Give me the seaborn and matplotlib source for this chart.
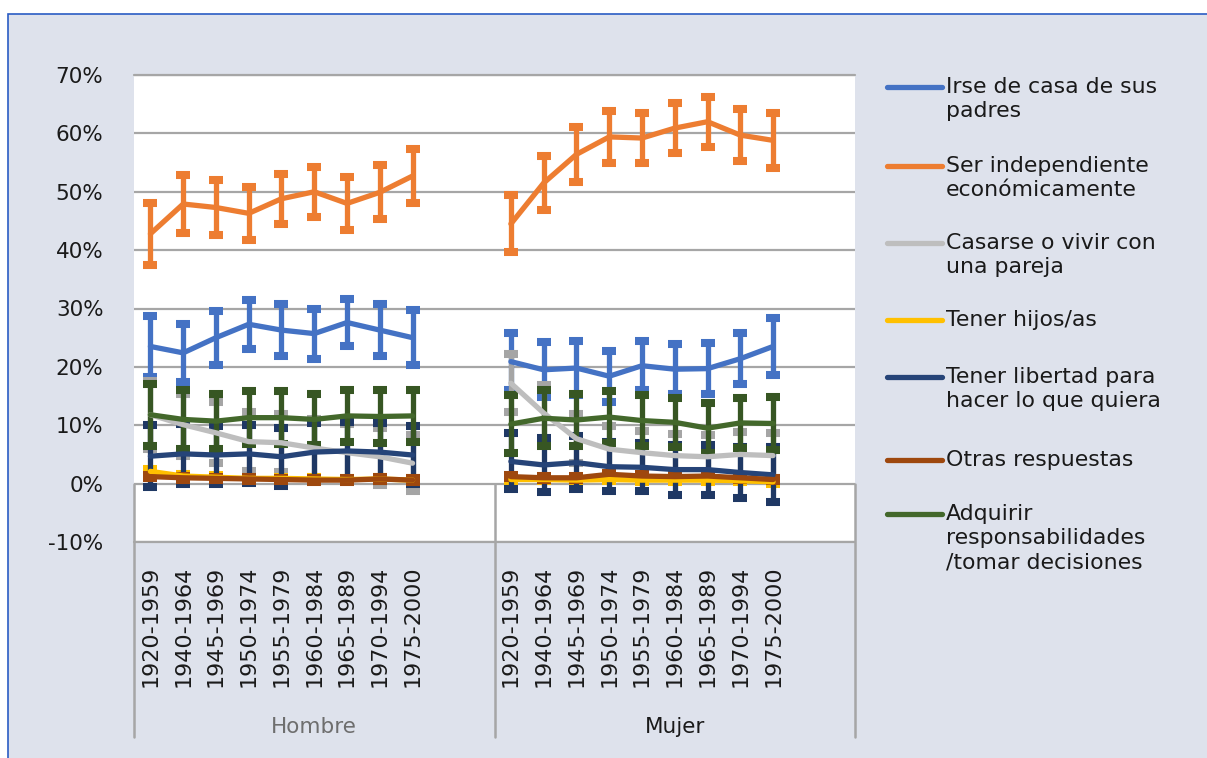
import pandas as pd
import matplotlib.pyplot as plt
import seaborn as sns
from matplotlib.patches import Rectangle
from matplotlib.lines import Line2D
from matplotlib.ticker import FuncFormatter, FixedLocator

# Datos (porcentajes)
cohortes = ['1920-1959', '1940-1964', '1945-1969', '1950-1974', '1955-1979',
            '1960-1984', '1965-1989', '1970-1994', '1975-2000']
sexos = ['Hombre', 'Mujer']
series = ['Irse de casa de sus\npadres',
          'Ser independiente\neconómicamente',
          'Casarse o vivir con\nuna pareja',
          'Tener hijos/as',
          'Tener libertad para\nhacer lo que quiera',
          'Otras respuestas',
          'Adquirir\nresponsabilidades\n/tomar decisiones']

irse_h = [23.5, 22.4, 25.0, 27.3, 26.3, 25.7, 27.6, 26.3, 25.0]
irse_m = [20.9, 19.5, 19.8, 18.4, 20.2, 19.6, 19.7, 21.4, 23.5]
ser_h = [42.8, 47.9, 47.3, 46.3, 48.8, 50.0, 48.0, 49.9, 52.7]
ser_m = [44.5, 51.5, 56.4, 59.4, 59.2, 60.9, 62.0, 59.7, 58.8]
cas_h = [11.8, 10.1, 8.7, 7.2, 7.0, 6.1, 5.3, 4.6, 3.5]
cas_m = [17.2, 12.1, 7.7, 5.9, 5.3, 4.8, 4.6, 5.0, 4.8]
hij_h = [2.1, 1.3, 1.1, 0.9, 0.9, 0.8, 0.7, 0.8, 0.6]
hij_m = [0.7, 0.7, 0.6, 0.7, 0.6, 0.6, 0.6, 0.5, 0.3]
lib_h = [4.7, 5.1, 4.9, 5.1, 4.6, 5.4, 5.6, 5.4, 4.9]
lib_m = [3.8, 3.2, 3.6, 2.9, 2.8, 2.4, 2.4, 1.9, 1.5]
otr_h = [1.2, 1.0, 0.9, 0.8, 0.7, 0.6, 0.6, 0.8, 0.6]
otr_m = [1.2, 1.0, 1.0, 1.6, 1.3, 1.2, 1.3, 1.0, 0.7]
adq_h = [11.8, 11.0, 10.7, 11.3, 11.3, 11.0, 11.6, 11.5, 11.6]
adq_m = [10.2, 11.2, 10.9, 11.4, 10.8, 10.5, 9.5, 10.4, 10.3]

# semiamplitud de los intervalos
irse_h_err = [5.2, 5.0, 4.6, 4.2, 4.4, 4.3, 4.0, 4.5, 4.7]
irse_m_err = [4.9, 4.7, 4.6, 4.4, 4.2, 4.3, 4.4, 4.4, 4.9]
ser_h_err = [5.3, 5.0, 4.7, 4.5, 4.3, 4.3, 4.5, 4.6, 4.6]
ser_m_err = [4.9, 4.7, 4.7, 4.4, 4.3, 4.3, 4.3, 4.4, 4.7]
cas_h_err = [5.8, 5.3, 5.2, 5.0, 5.0, 4.9, 4.9, 4.9, 4.8]
cas_m_err = [5.0, 4.8, 4.2, 4.0, 3.8, 3.7, 3.7, 3.8, 3.8]
hij_h_err = [0.4, 0.3, 0.3, 0.3, 0.3, 0.3, 0.3, 0.3, 0.3]
hij_m_err = [0.3, 0.3, 0.3, 0.3, 0.3, 0.3, 0.3, 0.3, 0.3]
lib_h_err = [5.3, 5.1, 5.0, 5.0, 5.0, 5.0, 5.0, 5.0, 5.0]
lib_m_err = [4.8, 4.7, 4.5, 4.2, 4.1, 4.3, 4.3, 4.4, 4.7]
otr_h_err = [0.3, 0.3, 0.3, 0.3, 0.3, 0.3, 0.3, 0.3, 0.3]
otr_m_err = [0.3, 0.3, 0.3, 0.3, 0.3, 0.3, 0.3, 0.3, 0.3]
adq_h_err = [5.3, 5.1, 4.7, 4.5, 4.5, 4.3, 4.5, 4.5, 4.5]
adq_m_err = [5.0, 4.8, 4.5, 4.4, 4.3, 4.2, 4.3, 4.3, 4.5]

colores = ['#4472C4', '#ED7D31', '#BEBEBE', '#FFC000', '#264478', '#9E480E', '#43682B']
colores_err = ['#4472C4', '#ED7D31', '#A5A5A5', '#FFC000', '#1F3864', '#9E480E', '#375623']

valores = [(irse_h, irse_m), (ser_h, ser_m), (cas_h, cas_m), (hij_h, hij_m),
           (lib_h, lib_m), (otr_h, otr_m), (adq_h, adq_m)]
errores = [(irse_h_err, irse_m_err), (ser_h_err, ser_m_err), (cas_h_err, cas_m_err),
           (hij_h_err, hij_m_err), (lib_h_err, lib_m_err), (otr_h_err, otr_m_err),
           (adq_h_err, adq_m_err)]

# tabla larga; cada grupo ocupa 11 huecos de categoria (9 + 2 vacios)
hueco = 11
filas = []
for serie, vals, errs in zip(series, valores, errores):
    for g, sexo in enumerate(sexos):
        for c, coh in enumerate(cohortes):
            filas.append({'serie': serie, 'sexo': sexo, 'cohorte': coh,
                          'pos': g * hueco + c, 'valor': vals[g][c], 'err': errs[g][c]})
df = pd.DataFrame(filas)

sns.set_style('white')
plt.rcParams['font.family'] = ['DejaVu Sans']

fig = plt.figure(figsize=(12.07, 7.58), dpi=100, facecolor='white')
fondo = Rectangle((8 / 1207, -0.05), 1.0, 1 - 14 / 758 + 0.05, transform=fig.transFigure,
                  facecolor='#DEE2EC', edgecolor='#2A5CC4', lw=1.2, zorder=-10)
fig.patches.append(fondo)

ax = fig.add_axes([134 / 1207, 1 - 542 / 758, 721 / 1207, 467 / 758])
ax.set_facecolor('white')

# barras de error
for serie, ce in zip(series, colores_err):
    d = df[df['serie'] == serie]
    for sexo in sexos:
        dd = d[d['sexo'] == sexo]
        ax.errorbar(dd['pos'], dd['valor'], yerr=dd['err'], fmt='none', ecolor=ce,
                    elinewidth=3.8, capsize=4.8, capthick=5.8, zorder=1.5)

sns.lineplot(data=df, x='pos', y='valor', hue='serie', units='sexo', estimator=None,
             hue_order=series, palette=dict(zip(series, colores)), linewidth=3.8,
             legend=False, ax=ax, zorder=2, solid_capstyle='round')

ax.set_xlim(-0.5, 2 * hueco - 0.5)
ax.set_ylim(-10, 70)
ax.yaxis.set_major_locator(FixedLocator(range(-10, 71, 10)))
ax.yaxis.set_major_formatter(FuncFormatter(lambda v, p: f'{v:.0f}%'))
ax.grid(axis='y', color='#A6A6A6', lw=1.6)
ax.grid(axis='x', visible=False)
ax.axhline(-10, color='#A6A6A6', lw=1.6, clip_on=False, zorder=0.5)
ax.axhline(70, color='#A6A6A6', lw=1.6, clip_on=False, zorder=0.5)
for s in ax.spines.values():
    s.set_visible(False)
ax.set_xlabel('')
ax.set_ylabel('')

pos_ticks = [g * hueco + c for g in range(len(sexos)) for c in range(len(cohortes))]
ax.set_xticks(pos_ticks)
ax.set_xticklabels(cohortes * len(sexos), rotation=90, fontsize=16, color='#1a1a1a')
ax.tick_params(axis='x', length=0, pad=17)
ax.tick_params(axis='y', length=0, pad=22, labelsize=15.5, labelcolor='#1a1a1a')

# lineas del eje de categorias de dos niveles
trans = ax.get_xaxis_transform()
y0 = (0 + 10) / 80
y1 = (542 - 737) / 467
for g in range(len(sexos) + 1):
    ax.plot([g * hueco - 0.5] * 2, [y0, y1], transform=trans, color='#A6A6A6',
            lw=1.8, clip_on=False, zorder=3)
for g, (sexo, col) in enumerate(zip(sexos, ['#6E6E6E', '#1a1a1a'])):
    ax.text(g * hueco + (hueco - 1) / 2, (542 - 727) / 467, sexo, transform=trans,
            ha='center', va='center', fontsize=15.5, color=col)

# leyenda
ley_y = [87, 166, 243, 320, 377, 460, 514]
for serie, col, yy in zip(series, colores, ley_y):
    yf = 1 - yy / 758
    fig.add_artist(Line2D([887 / 1207, 942 / 1207], [yf, yf], color=col, lw=3.8,
                          solid_capstyle='round', transform=fig.transFigure))
    fig.text(946 / 1207, 1 - (yy - 10) / 758, serie, ha='left', va='top',
             fontsize=15.8, color='#1a1a1a', linespacing=1.28)

fig.savefig('out.png', dpi=100, facecolor=fig.get_facecolor())
